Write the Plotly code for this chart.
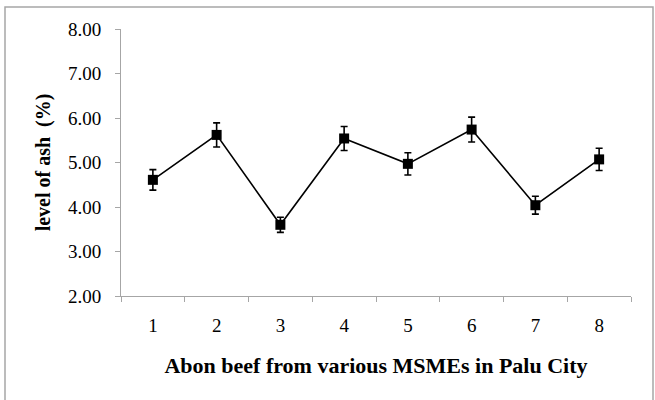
import plotly.graph_objects as go

categories = ["1", "2", "3", "4", "5", "6", "7", "8"]
ash_values = [4.61, 5.62, 3.60, 5.54, 4.97, 5.74, 4.04, 5.07]
ash_errors = [0.23, 0.27, 0.17, 0.27, 0.25, 0.28, 0.20, 0.25]

x_title = "Abon beef from various MSMEs in Palu City"
y_title = "level of ash  (%)"

font_family = "Liberation Serif, Times New Roman, serif"

fig = go.Figure()
fig.add_trace(go.Scatter(
    x=categories, y=ash_values,
    mode="lines+markers",
    line=dict(color="black", width=1.6),
    marker=dict(symbol="square", size=10, color="black"),
    error_y=dict(type="data", array=ash_errors, visible=True,
                 color="black", thickness=1.6, width=3.5),
    showlegend=False,
))

L, R, T, B = 121, 24, 29, 104
W, H = 655, 400
pw, ph = W - L - R, H - T - B

def px_to_paper_x(px):
    return (px - L) / pw

def px_to_paper_y(py):
    return (H - B - py) / ph

fig.add_shape(type="rect", xref="paper", yref="paper",
              x0=px_to_paper_x(5), x1=px_to_paper_x(653),
              y0=px_to_paper_y(403), y1=px_to_paper_y(7),
              line=dict(color="#a6a6a6", width=1.5), fillcolor="rgba(0,0,0,0)", layer="below")

fig.update_layout(
    width=W, height=H,
    margin=dict(l=L, r=R, t=T, b=B),
    paper_bgcolor="white", plot_bgcolor="white",
    font=dict(family=font_family, color="black", size=19),
    xaxis=dict(
        type="category", tickson="boundaries", range=[-0.5, 7.5],
        showline=True, linecolor="#a6a6a6", linewidth=1,
        ticks="outside", ticklen=5, tickcolor="#a6a6a6",
        showgrid=False, zeroline=False,
        ticklabelstandoff=12,
        tickfont=dict(size=19, family=font_family),
        title=dict(text="<b>" + x_title + "</b>", font=dict(size=22, family=font_family), standoff=22),
    ),
    yaxis=dict(
        range=[2, 8], dtick=1, tickformat=".2f",
        showline=True, linecolor="#a6a6a6", linewidth=1,
        ticks="outside", ticklen=5, tickcolor="#a6a6a6",
        showgrid=False, zeroline=False,
        ticklabelstandoff=10,
        tickfont=dict(size=19, family=font_family),
        title=dict(text="<b>" + y_title + "</b>", font=dict(size=20, family=font_family), standoff=11),
    ),
)

fig.write_html("out.html")
